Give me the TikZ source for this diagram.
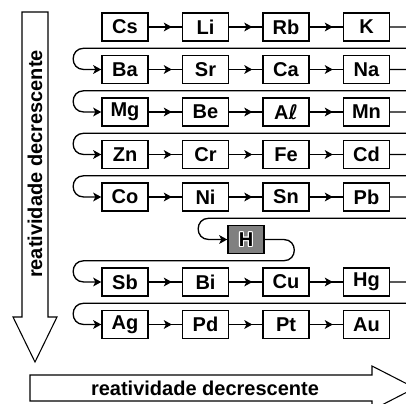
\documentclass[tikz,border=0pt]{standalone}
\usepackage{fontspec}
\setmainfont{Liberation Sans}
\newfontfamily\symbfont{DejaVu Sans}
\usetikzlibrary{arrows.meta, decorations.markings}

\begin{document}
\begin{tikzpicture}[x=0.75pt, y=-0.75pt,
    elemfont/.style={font=\bfseries\fontsize{15}{15}\selectfont},
    elem/.style={draw, line width=1.1pt, fill=white, minimum width=34.5pt,
      minimum height=21pt, inner sep=0pt, elemfont},
    elemtip/.tip={Stealth[length=6pt, width=6.5pt, inset=1.5pt]},
    link/.style={line width=1pt},
    midarrow/.style={link, decoration={markings,
      mark=at position 0.7 with {\arrow{elemtip}}}, postaction={decorate}},
    backline/.style={link, -elemtip},
    bigarrow/.style={draw, line width=0.8pt},
    trend/.style={font=\bfseries\fontsize{15}{15}\selectfont}]
  \useasboundingbox (0,0) rectangle (406,403);
  \clip (0,0) rectangle (406,403);

  % Setas grandes
  \draw[bigarrow] (22,12) -- (48,12) -- (48,317) -- (57,317) -- (35,362)
    -- (13,317) -- (22,317) -- cycle;
  \node[trend, rotate=90] (vtrend) at (35,164) {reatividade decrescente};
  \draw[bigarrow] (30,375) -- (372,375) -- (372,366) -- (415,388)
    -- (372,410) -- (372,401) -- (30,401) -- cycle;
  \node[trend] (htrend) at (205,388) {reatividade decrescente};

  % Elementos
  \node[elem] (cs) at (125,27) {Cs};
  \node[elem] (li) at (205.5,27) {Li};
  \node[elem] (rb) at (286,27) {Rb};
  \node[elem] (k) at (366.5,27) {K};

  \node[elem] (ba) at (125,69.5) {Ba};
  \node[elem] (sr) at (205.5,69.5) {Sr};
  \node[elem] (ca) at (286,69.5) {Ca};
  \node[elem] (na) at (366.5,69.5) {Na};

  \node[elem] (mg) at (125,112) {Mg};
  \node[elem] (be) at (205.5,112) {Be};
  \node[elem] (al) at (286,112) {A{\symbfont ℓ}};
  \node[elem] (mn) at (366.5,112) {Mn};

  \node[elem] (zn) at (125,154.5) {Zn};
  \node[elem] (cr) at (205.5,154.5) {Cr};
  \node[elem] (fe) at (286,154.5) {Fe};
  \node[elem] (cd) at (366.5,154.5) {Cd};

  \node[elem] (co) at (125,197) {Co};
  \node[elem] (ni) at (205.5,197) {Ni};
  \node[elem] (sn) at (286,197) {Sn};
  \node[elem] (pb) at (366.5,197) {Pb};

  % Hidrogenio
  \node[elem, fill=black!50, minimum width=27pt] (h) at (246,239.5) {};
  \foreach \dx/\dy in {-0.8/0, 0.8/0, 0/-0.8, 0/0.8, -0.6/-0.6, 0.6/0.6, -0.6/0.6, 0.6/-0.6}
    \node[elemfont, text=white] at ([xshift=\dx pt, yshift=\dy pt]h.center) {H};
  \node[elemfont] (hlabel) at (h.center) {H};

  \node[elem] (sb) at (125,282) {Sb};
  \node[elem] (bi) at (205.5,282) {Bi};
  \node[elem] (cu) at (286,282) {Cu};
  \node[elem] (hg) at (366.5,282) {Hg};

  \node[elem] (ag) at (125,324.5) {Ag};
  \node[elem] (pd) at (205.5,324.5) {Pd};
  \node[elem] (pt) at (286,324.5) {Pt};
  \node[elem] (au) at (366.5,324.5) {Au};

  % Setas entre elementos
  \foreach \a/\b in {cs/li, li/rb, rb/k, ba/sr, sr/ca, ca/na, mg/be, be/al, al/mn,
      zn/cr, cr/fe, fe/cd, co/ni, ni/sn, sn/pb, sb/bi, bi/cu, cu/hg, ag/pd, pd/pt, pt/au}
    \draw[midarrow] (\a) -- (\b);

  % Retornos de linha
  \foreach \a/\b in {k/ba, na/mg, mn/zn, cd/co, hg/ag}
    \draw[backline] (\a.east) -- ++(30.5,0) to[out=0, in=0, looseness=1.7] ++(0,21.25)
      -- ++(-337,0) to[out=180, in=180, looseness=1.7] ++(0,21.25) -- (\b.west);
  \draw[backline] (pb.east) -- ++(30.5,0) to[out=0, in=0, looseness=1.7] ++(0,21.25)
    -- ++(-212,0) to[out=180, in=180, looseness=1.7] ++(0,21.25) -- (h.west);
  \draw[backline] (h.east) -- ++(19,0) to[out=0, in=0, looseness=1.7] ++(0,21.25)
    -- ++(-200,0) to[out=180, in=180, looseness=1.7] ++(0,21.25) -- (sb.west);
\end{tikzpicture}
\end{document}
